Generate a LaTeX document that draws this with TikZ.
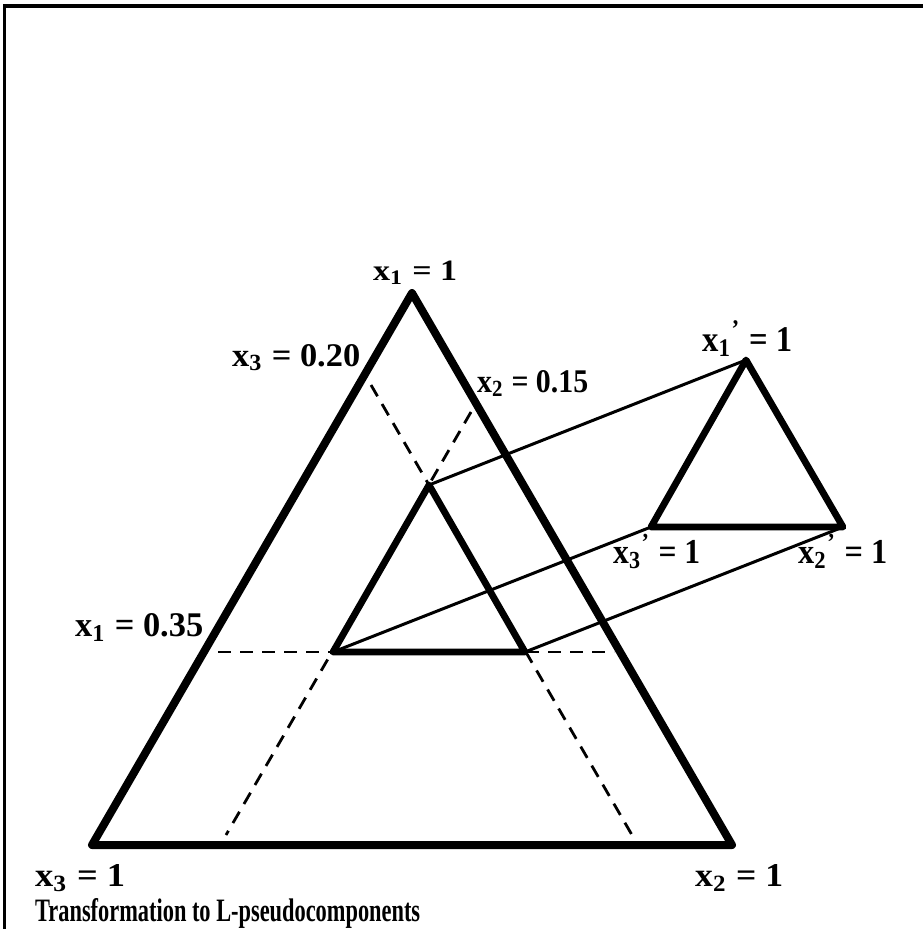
\documentclass[tikz,border=0pt]{standalone}
\usepackage{fontspec}
\setmainfont{Liberation Serif}
\usepackage{graphicx}
\begin{document}
\begin{tikzpicture}[x=1pt,y=-1pt,
  frame/.style={line width=#1},
  bigtri/.style={line width=8pt,line join=round,line cap=round},
  smalltri/.style={line width=6.8pt,line join=round,line cap=round},
  thinline/.style={line width=3pt},
  dashline/.style={line width=2.8pt,dash pattern=on 13pt off 9pt},
  lbl/.style={inner sep=0pt,anchor=base west,font=\bfseries}]
\useasboundingbox (0,0) rectangle (923,929);
% frame
\coordinate (F1) at (3,6);
\coordinate (F2) at (923,6);
\coordinate (F3) at (4.7,4);
\coordinate (F4) at (4.7,929);
\draw[frame=4pt] (F1) -- (F2);
\draw[frame=2.7pt] (F3) -- (F4);
% big triangle vertices
\coordinate (A) at (412,293);
\coordinate (B) at (92,845);
\coordinate (C) at (732,845);
% inner (L-pseudocomponent) triangle
\coordinate (P1) at (429,485);
\coordinate (P2) at (333,652);
\coordinate (P3) at (525,652);
% transformed triangle
\coordinate (Q1) at (746,360);
\coordinate (Q2) at (651,527);
\coordinate (Q3) at (843,527);
% dashed constraint lines end points
\coordinate (D1a) at (371,385);
\coordinate (D1b) at (632,835);
\coordinate (D2a) at (471,412);
\coordinate (D2b) at (226,835);
\coordinate (D3a) at (218,652);
\coordinate (D3b) at (614,652);
\draw[dashline] (D1a) -- (D1b);
\draw[dashline] (D2a) -- (D2b);
\draw[dashline] (D3a) -- (D3b);
% connectors
\draw[thinline] (P1) -- (Q1);
\draw[thinline] (P2) -- (Q2);
\draw[thinline] (P3) -- (Q3);
% triangles
\draw[bigtri] (A) -- (B) -- (C) -- cycle;
\draw[smalltri] (P1) -- (P2) -- (P3) -- cycle;
\draw[smalltri] (Q1) -- (Q2) -- (Q3) -- cycle;
% labels
\node[lbl] (l1) at (373,280) {\resizebox{84pt}{19.5pt}{x\textsubscript{1} = 1}};
\node[lbl] (l2) at (232,366) {\resizebox{128pt}{22pt}{x\textsubscript{3} = 0.20}};
\node[lbl] (l3) at (477,392) {\resizebox{111pt}{22pt}{x\textsubscript{2} = 0.15}};
\node[lbl] (l4) at (75,636) {\resizebox{128pt}{23pt}{x\textsubscript{1} = 0.35}};
\node[lbl] (l5) at (702,351) {\resizebox{90pt}{30pt}{x\textsubscript{1}\textsuperscript{’} = 1}};
\node[lbl] (l6) at (613,563) {\resizebox{87pt}{29pt}{x\textsubscript{3}\textsuperscript{’} = 1}};
\node[lbl] (l7) at (798,563) {\resizebox{89pt}{29pt}{x\textsubscript{2}\textsuperscript{’} = 1}};
\node[lbl] (l8) at (35,886) {\resizebox{90pt}{22pt}{x\textsubscript{3} = 1}};
\node[lbl] (l9) at (695,886) {\resizebox{88pt}{22pt}{x\textsubscript{2} = 1}};
\node[lbl] (l10) at (35,921) {\resizebox{385pt}{23pt}{Transformation to L-pseudocomponents}};
\end{tikzpicture}
\end{document}
